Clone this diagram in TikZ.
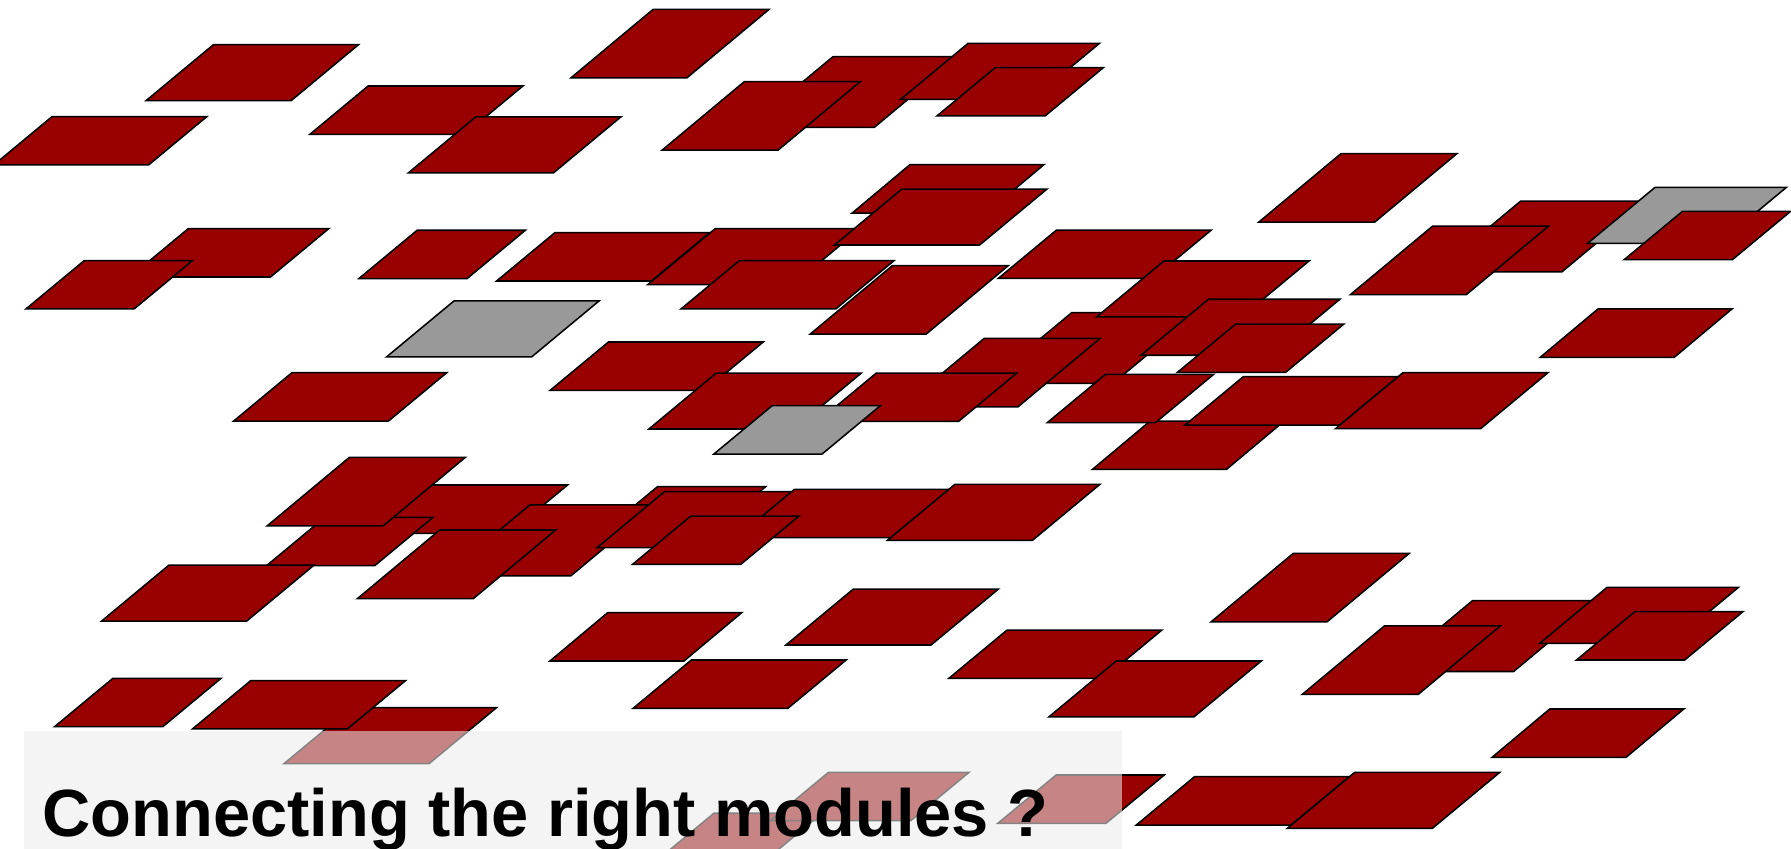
\documentclass[tikz,border=0pt]{standalone}
\usepackage{fontspec}
\setmainfont{Liberation Sans}
\definecolor{modred}{RGB}{153,0,0}
\definecolor{modgray}{RGB}{153,153,153}
\definecolor{veil}{RGB}{235,235,235}
\tikzset{
  mod/.style={fill=modred, draw=black, line width=1.35pt},
  gmod/.style={fill=modgray, draw=black, line width=1.35pt},
  veilbox/.style={fill=veil, fill opacity=0.565, draw=none},
  titletext/.style={anchor=base west, inner sep=0pt, font=\bfseries\fontsize{58.5}{60}\selectfont}
}
% parallelogram: top-left x, top-left y, width, height, slant
\newcommand{\modshape}[6][mod]{\filldraw[#1] (#2,#3) -- ++(#4,0) -- ++(-#6,#5) -- ++(-#4,0) -- cycle;}
\newcommand{\modA}[3][mod]{\modshape[#1]{#2}{#3}{101.5}{60}{72}}
\newcommand{\modB}[3][mod]{\modshape[#1]{#2}{#3}{127}{49}{59}}
\newcommand{\modC}[3][mod]{\modshape[#1]{#2}{#3}{135.5}{42.3}{51}}
\newcommand{\modD}[3][mod]{\modshape[#1]{#2}{#3}{94.7}{42.3}{51}}
\newcommand{\modE}[3][mod]{\modshape[#1]{#2}{#3}{115}{49}{59}}
\newcommand{\modF}[3][mod]{\modshape[#1]{#2}{#3}{117.3}{42.3}{50.5}}
\newcommand{\modG}[3][mod]{\modshape[#1]{#2}{#3}{110.5}{62}{74.5}}
\newcommand{\modH}[3][mod]{\modshape[#1]{#2}{#3}{123}{42.3}{51}}
\begin{document}
\begin{tikzpicture}[x=1pt,y=-1pt]
\useasboundingbox (0,0) rectangle (1568,743);
\clip (0,0) rectangle (1568,743);
% top rows
\modB{186.9}{39.1}
\modC{45.6}{102.1}
\modC{322.3}{75.3}
\modB{416.5}{102.4}
\modA{571.8}{8.2}
\modG{729.3}{49.6}
\modA{651.6}{71.5}
\modE{847.5}{38}
\modD{871.3}{59.2}
% second rows
\modF{796.6}{144.2}
\modC{485.8}{203.7}
\modB{626.1}{200.2}
\modB{789.6}{165.5}
\modC{647.2}{228.2}
\modA{781.2}{232.6}
\modA{1174}{134.5}
\modG{1331.4}{176}
\modE[gmod]{1449}{164}
\modD{1473}{185}
\modA{1254.3}{197.9}
\modF{1399}{270.5}
\modH{164.8}{200.2}
\modD{73.7}{228.2}
\modD{365.2}{201.6}
% middle
\modB[gmod]{397.4}{263.5}
\modC{255.6}{326.3}
\modG{938.3}{273.7}
\modC{925}{201.4}
\modB{1019}{228.5}
\modE{1058}{262}
\modD{1081.8}{283.7}
\modA{861.7}{296.2}
\modC{532.7}{299.4}
\modH{767.2}{326.6}
\modB{627.1}{326.6}
\modD[gmod]{676}{355.2}
\modF{1007}{368.6}
\modD{967.9}{327.7}
\modC{1088.5}{329.8}
\modB{1228.2}{326.3}
% lower-middle cluster
\modH{373.9}{424.6}
\modD{284.4}{452.9}
\modA{305.9}{400.4}
\modB{148}{494.7}
\modD{575.6}{426.1}
\modG{463.8}{442.1}
\modA{385}{464}
\modE{581.7}{430.5}
\modC{695.5}{428.4}
\modD{604.8}{451.8}
\modB{836}{424}
% lower rows
\modF{532}{536.4}
\modC{605.3}{577.8}
\modB{747.1}{515.7}
\modC{881.7}{551.6}
\modB{977.2}{578.7}
\modA{1132.3}{484.4}
\modG{1289.1}{525.9}
\modA{1212}{548}
\modE{1407}{514.2}
\modD{1431.2}{535.5}
\modF{1356.8}{620.7}
\modD{98.8}{593.9}
\modB{307.6}{619.6}
\modC{219.5}{595.9}
\modD{625}{712}
\modH{725.3}{676.2}
\modD{924.6}{678.5}
\modC{1045.8}{680}
\modB{1186}{676.2}
% caption band
\fill[veilbox] (21,640) rectangle (982.3,760);
\node[titletext] (title) at (37,732.5) {Connecting the right modules ?};
\end{tikzpicture}
\end{document}
